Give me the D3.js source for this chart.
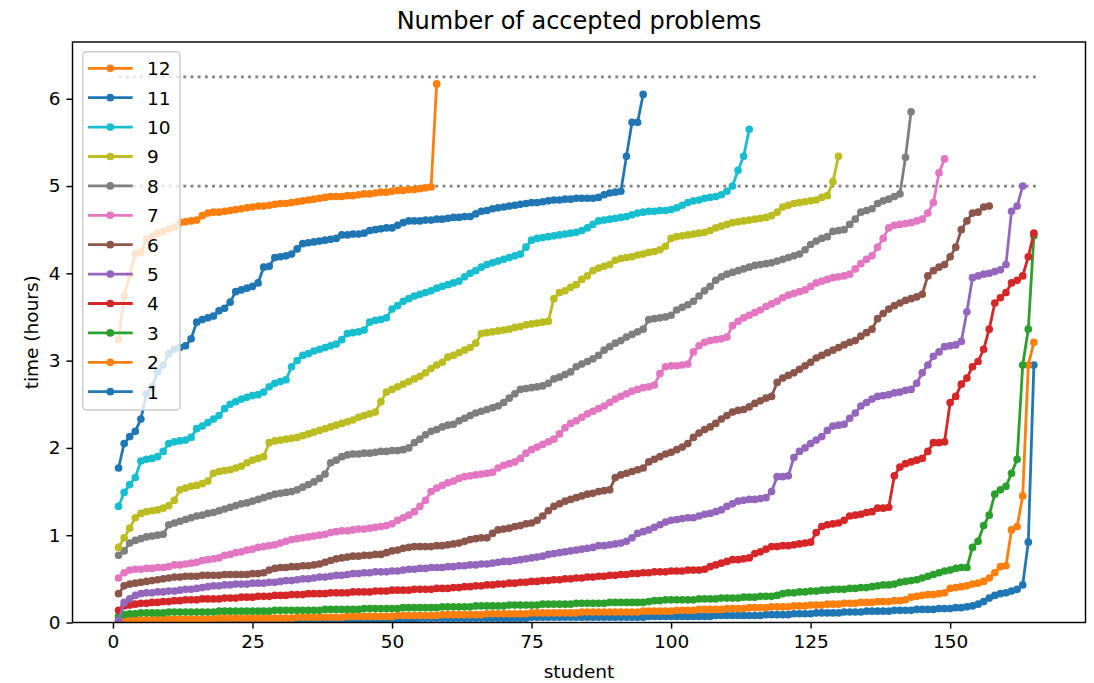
<!DOCTYPE html>
<html>
<head>
<meta charset="utf-8">
<script src="https://cdn.jsdelivr.net/npm/d3@7"></script>
<style>
  body { margin: 0; background: #fff; }
  text { font-family: "DejaVu Sans", sans-serif; fill: #000; }
</style>
</head>
<body>
<div id="chart"></div>
<script>
// sorted times (hours) at which each student reached k accepted problems
var solved1 = [0.01,0.01,0.01,0.01,0.01,0.01,0.01,0.01,0.02,0.02, 0.02,0.02,0.02,0.02,0.02,0.02,0.02,0.02,0.02,0.02,
  0.03,0.03,0.03,0.03,0.03,0.03,0.03,0.03,0.03,0.03, 0.03,0.03,0.03,0.03,0.03,0.03,0.04,0.04,0.04,0.04,
  0.04,0.04,0.04,0.04,0.04,0.04,0.04,0.04,0.04,0.04, 0.04,0.04,0.04,0.04,0.05,0.05,0.05,0.05,0.05,0.05,
  0.05,0.05,0.05,0.05,0.05,0.05,0.05,0.05,0.05,0.05, 0.05,0.05,0.05,0.05,0.06,0.06,0.06,0.06,0.06,0.06,
  0.06,0.06,0.06,0.06,0.06,0.06,0.06,0.06,0.06,0.06, 0.06,0.06,0.06,0.06,0.06,0.07,0.07,0.07,0.07,0.07,
  0.07,0.07,0.07,0.07,0.07,0.07,0.07,0.08,0.08,0.08, 0.08,0.08,0.08,0.08,0.08,0.08,0.09,0.09,0.09,0.09,
  0.09,0.10,0.10,0.10,0.10,0.11,0.11,0.11,0.11,0.11, 0.12,0.12,0.12,0.12,0.13,0.13,0.13,0.13,0.13,0.14,
  0.14,0.14,0.14,0.15,0.15,0.15,0.15,0.16,0.16,0.16, 0.17,0.17,0.18,0.19,0.21,0.24,0.28,0.31,0.33,0.34,
  0.36,0.38,0.43,0.92,2.95];
var solved2 = [0.02,0.03,0.03,0.03,0.03,0.03,0.03,0.04,0.04,0.04, 0.04,0.04,0.04,0.04,0.04,0.04,0.04,0.04,0.05,0.05,
  0.05,0.05,0.05,0.05,0.05,0.05,0.05,0.05,0.05,0.05, 0.05,0.05,0.06,0.06,0.06,0.06,0.06,0.06,0.06,0.06,
  0.06,0.07,0.07,0.07,0.07,0.07,0.07,0.07,0.07,0.07, 0.08,0.08,0.08,0.08,0.08,0.08,0.08,0.08,0.09,0.09,
  0.09,0.09,0.09,0.09,0.09,0.09,0.10,0.10,0.10,0.10, 0.10,0.10,0.10,0.10,0.11,0.11,0.11,0.11,0.11,0.11,
  0.11,0.11,0.11,0.12,0.12,0.12,0.12,0.12,0.12,0.12, 0.12,0.12,0.12,0.12,0.13,0.13,0.13,0.13,0.13,0.13,
  0.14,0.14,0.14,0.14,0.15,0.15,0.15,0.15,0.15,0.16, 0.16,0.16,0.16,0.17,0.17,0.17,0.17,0.18,0.18,0.18,
  0.18,0.19,0.19,0.19,0.20,0.20,0.20,0.21,0.21,0.21, 0.22,0.22,0.22,0.23,0.23,0.23,0.24,0.24,0.24,0.25,
  0.25,0.26,0.29,0.30,0.31,0.32,0.32,0.33,0.34,0.39, 0.40,0.41,0.42,0.44,0.45,0.47,0.51,0.57,0.64,0.65,
  1.06,1.10,1.45,2.95,3.21];
var solved3 = [0.07,0.09,0.10,0.10,0.11,0.11,0.11,0.11,0.11,0.12, 0.12,0.12,0.12,0.12,0.12,0.12,0.12,0.12,0.13,0.13,
  0.13,0.13,0.13,0.13,0.13,0.13,0.13,0.13,0.14,0.14, 0.14,0.14,0.14,0.14,0.14,0.14,0.14,0.15,0.15,0.15,
  0.15,0.15,0.15,0.15,0.16,0.16,0.16,0.16,0.16,0.16, 0.16,0.17,0.17,0.17,0.17,0.17,0.17,0.17,0.18,0.18,
  0.18,0.18,0.18,0.18,0.19,0.19,0.19,0.19,0.19,0.19, 0.20,0.20,0.20,0.20,0.20,0.20,0.21,0.21,0.21,0.21,
  0.21,0.21,0.22,0.22,0.22,0.22,0.22,0.22,0.23,0.23, 0.23,0.23,0.23,0.23,0.23,0.24,0.25,0.25,0.26,0.26,
  0.26,0.26,0.26,0.26,0.27,0.27,0.27,0.27,0.28,0.28, 0.28,0.28,0.29,0.29,0.29,0.30,0.30,0.30,0.31,0.33,
  0.34,0.34,0.35,0.35,0.36,0.36,0.37,0.37,0.38,0.38, 0.38,0.39,0.39,0.40,0.40,0.41,0.42,0.43,0.43,0.44,
  0.46,0.47,0.48,0.49,0.51,0.53,0.55,0.57,0.59,0.60, 0.62,0.63,0.63,0.86,0.93,1.11,1.23,1.47,1.52,1.56,
  1.71,1.87,2.95,3.36,4.43];
var solved4 = [0.14,0.19,0.20,0.21,0.22,0.22,0.23,0.23,0.24,0.24, 0.25,0.25,0.26,0.26,0.26,0.27,0.27,0.27,0.27,0.28,
  0.28,0.28,0.29,0.29,0.29,0.30,0.30,0.30,0.31,0.31, 0.31,0.32,0.32,0.32,0.33,0.33,0.33,0.33,0.34,0.34,
  0.34,0.34,0.35,0.35,0.35,0.35,0.36,0.36,0.36,0.37, 0.37,0.37,0.37,0.38,0.38,0.38,0.38,0.39,0.39,0.39,
  0.40,0.40,0.41,0.41,0.42,0.42,0.43,0.43,0.44,0.44, 0.45,0.45,0.46,0.46,0.47,0.47,0.48,0.48,0.49,0.49,
  0.50,0.50,0.51,0.51,0.52,0.52,0.53,0.53,0.54,0.54, 0.55,0.55,0.56,0.56,0.57,0.57,0.58,0.58,0.58,0.59,
  0.59,0.59,0.60,0.60,0.60,0.61,0.64,0.66,0.68,0.70, 0.72,0.72,0.73,0.74,0.79,0.81,0.84,0.87,0.87,0.88,
  0.88,0.89,0.90,0.91,0.92,1.03,1.10,1.12,1.13,1.14, 1.17,1.22,1.23,1.24,1.26,1.27,1.31,1.31,1.32,1.68,
  1.78,1.82,1.84,1.86,1.88,1.96,2.06,2.06,2.07,2.52, 2.59,2.73,2.80,2.93,2.99,3.13,3.36,3.66,3.72,3.78,
  3.89,3.92,3.97,4.19,4.46];
var solved5 = [0.02,0.23,0.27,0.31,0.33,0.34,0.34,0.35,0.35,0.36, 0.36,0.37,0.38,0.38,0.39,0.40,0.41,0.42,0.42,0.43,
  0.43,0.44,0.44,0.44,0.45,0.45,0.45,0.46,0.46,0.47, 0.48,0.48,0.49,0.50,0.50,0.51,0.52,0.52,0.53,0.54,
  0.54,0.55,0.56,0.56,0.57,0.57,0.58,0.58,0.58,0.59, 0.59,0.60,0.61,0.61,0.62,0.62,0.63,0.63,0.63,0.64,
  0.64,0.65,0.65,0.66,0.66,0.67,0.67,0.68,0.69,0.70, 0.70,0.71,0.72,0.73,0.74,0.75,0.76,0.78,0.79,0.80,
  0.81,0.82,0.83,0.84,0.85,0.86,0.88,0.88,0.89,0.90, 0.91,0.93,0.97,1.02,1.04,1.06,1.09,1.12,1.15,1.17,
  1.18,1.19,1.20,1.20,1.22,1.24,1.25,1.27,1.29,1.33, 1.36,1.39,1.40,1.41,1.41,1.42,1.43,1.50,1.67,1.67,
  1.68,1.89,1.96,2.00,2.05,2.09,2.13,2.20,2.25,2.26, 2.27,2.34,2.40,2.48,2.52,2.56,2.59,2.60,2.61,2.63,
  2.64,2.66,2.67,2.74,2.86,2.95,3.05,3.10,3.16,3.17, 3.18,3.22,3.56,3.95,3.97,3.99,4.00,4.02,4.04,4.10,
  4.71,4.77,5.00];
var solved6 = [0.33,0.42,0.44,0.45,0.46,0.47,0.48,0.49,0.50,0.51, 0.52,0.52,0.53,0.53,0.53,0.54,0.54,0.54,0.54,0.55,
  0.55,0.55,0.55,0.55,0.56,0.56,0.57,0.60,0.62,0.63, 0.63,0.64,0.64,0.65,0.65,0.66,0.67,0.69,0.71,0.73,
  0.74,0.75,0.76,0.76,0.77,0.77,0.78,0.78,0.80,0.82, 0.83,0.85,0.86,0.87,0.87,0.87,0.87,0.88,0.88,0.89,
  0.90,0.91,0.93,0.95,0.96,0.97,0.97,1.02,1.06,1.07, 1.08,1.10,1.11,1.13,1.14,1.17,1.22,1.28,1.33,1.36,
  1.39,1.41,1.43,1.45,1.47,1.48,1.50,1.51,1.52,1.66, 1.69,1.71,1.73,1.75,1.77,1.84,1.87,1.90,1.93,1.95,
  1.98,2.01,2.05,2.12,2.17,2.21,2.24,2.28,2.33,2.37, 2.41,2.43,2.44,2.47,2.51,2.54,2.57,2.59,2.75,2.80,
  2.83,2.86,2.90,2.94,2.98,3.03,3.06,3.09,3.12,3.15, 3.18,3.21,3.23,3.28,3.32,3.36,3.48,3.54,3.59,3.63,
  3.66,3.69,3.71,3.73,3.76,3.97,4.03,4.07,4.10,4.19, 4.30,4.50,4.60,4.69,4.70,4.76,4.77];
var solved7 = [0.51,0.57,0.60,0.61,0.61,0.62,0.62,0.63,0.63,0.64, 0.66,0.66,0.67,0.68,0.69,0.71,0.72,0.73,0.74,0.77,
  0.78,0.80,0.81,0.83,0.84,0.86,0.87,0.88,0.89,0.91, 0.93,0.95,0.96,0.97,0.98,0.99,1.00,1.01,1.03,1.04,
  1.05,1.05,1.06,1.07,1.07,1.08,1.09,1.10,1.11,1.13, 1.17,1.20,1.23,1.27,1.33,1.40,1.50,1.54,1.57,1.60,
  1.62,1.65,1.67,1.68,1.69,1.70,1.71,1.72,1.77,1.80, 1.82,1.84,1.88,1.94,1.98,2.01,2.04,2.07,2.10,2.16,
  2.23,2.28,2.31,2.35,2.39,2.42,2.45,2.48,2.52,2.56, 2.59,2.62,2.65,2.67,2.69,2.70,2.72,2.85,2.93,2.94,
  2.94,2.95,2.96,3.10,3.17,3.21,3.23,3.24,3.25,3.27, 3.40,3.45,3.49,3.52,3.55,3.58,3.62,3.65,3.68,3.72,
  3.75,3.77,3.79,3.81,3.85,3.89,3.91,3.93,3.95,3.96, 3.97,3.99,4.05,4.11,4.16,4.20,4.30,4.40,4.52,4.55,
  4.56,4.57,4.58,4.60,4.62,4.69,4.81,5.15,5.31];
var solved8 = [0.77,0.82,0.91,0.94,0.96,0.98,0.99,1.00,1.01,1.12, 1.14,1.16,1.18,1.20,1.22,1.23,1.25,1.26,1.28,1.30,
  1.32,1.34,1.36,1.37,1.39,1.41,1.43,1.45,1.47,1.48, 1.49,1.50,1.52,1.55,1.58,1.61,1.65,1.70,1.83,1.86,
  1.90,1.92,1.93,1.93,1.94,1.94,1.95,1.96,1.96,1.97, 1.97,1.98,2.00,2.06,2.10,2.15,2.19,2.21,2.24,2.26,
  2.27,2.31,2.34,2.37,2.40,2.42,2.44,2.46,2.48,2.52, 2.57,2.62,2.67,2.68,2.69,2.70,2.71,2.74,2.79,2.81,
  2.84,2.87,2.93,2.96,2.99,3.02,3.06,3.12,3.16,3.20, 3.23,3.27,3.30,3.33,3.36,3.47,3.48,3.49,3.50,3.52,
  3.58,3.61,3.64,3.68,3.74,3.80,3.85,3.92,3.96,3.99, 4.01,4.03,4.05,4.07,4.09,4.10,4.11,4.12,4.14,4.16,
  4.18,4.20,4.22,4.27,4.33,4.37,4.40,4.42,4.48,4.49, 4.50,4.56,4.62,4.70,4.72,4.74,4.80,4.83,4.85,4.88,
  4.91,5.33,5.85];
var solved9 = [0.86,0.97,1.08,1.20,1.25,1.27,1.28,1.29,1.31,1.34, 1.40,1.52,1.54,1.56,1.57,1.59,1.62,1.71,1.73,1.74,
  1.75,1.77,1.79,1.83,1.86,1.88,1.90,2.06,2.08,2.09, 2.10,2.11,2.12,2.14,2.16,2.18,2.20,2.22,2.24,2.26,
  2.28,2.30,2.32,2.35,2.37,2.39,2.41,2.53,2.64,2.67, 2.70,2.73,2.76,2.79,2.82,2.86,2.91,2.95,2.98,3.04,
  3.06,3.09,3.12,3.15,3.20,3.31,3.32,3.33,3.34,3.35, 3.36,3.38,3.39,3.41,3.42,3.43,3.44,3.45,3.71,3.78,
  3.80,3.84,3.87,3.93,3.97,4.03,4.06,4.08,4.10,4.15, 4.17,4.18,4.19,4.21,4.22,4.24,4.25,4.27,4.31,4.40,
  4.42,4.43,4.44,4.45,4.46,4.47,4.49,4.52,4.54,4.56, 4.58,4.59,4.60,4.61,4.62,4.63,4.64,4.66,4.70,4.76,
  4.78,4.80,4.81,4.82,4.83,4.84,4.87,4.89,5.05,5.34];
var solved10 = [1.33,1.49,1.58,1.66,1.85,1.87,1.88,1.90,1.96,2.05, 2.07,2.08,2.09,2.12,2.22,2.25,2.29,2.33,2.37,2.45,
  2.50,2.53,2.56,2.58,2.60,2.61,2.64,2.70,2.74,2.76, 2.78,2.93,3.00,3.06,3.08,3.11,3.13,3.15,3.17,3.19,
  3.24,3.31,3.32,3.33,3.35,3.44,3.46,3.47,3.49,3.59, 3.63,3.68,3.71,3.74,3.76,3.78,3.80,3.83,3.85,3.87,
  3.89,3.91,3.96,4.00,4.03,4.07,4.10,4.12,4.14,4.16, 4.18,4.20,4.22,4.30,4.38,4.40,4.41,4.42,4.43,4.44,
  4.45,4.46,4.47,4.49,4.52,4.56,4.60,4.61,4.62,4.63, 4.64,4.65,4.67,4.69,4.70,4.71,4.71,4.72,4.72,4.73,
  4.75,4.78,4.81,4.83,4.84,4.86,4.87,4.88,4.90,4.94, 5.00,5.18,5.34,5.65];
var solved11 = [1.77,2.05,2.13,2.19,2.33,2.62,2.70,2.87,2.95,3.08, 3.13,3.15,3.17,3.25,3.44,3.47,3.49,3.51,3.57,3.60,
  3.67,3.79,3.81,3.83,3.85,3.89,4.07,4.08,4.18,4.19, 4.20,4.22,4.28,4.34,4.35,4.36,4.37,4.38,4.39,4.40,
  4.44,4.44,4.45,4.45,4.46,4.49,4.50,4.51,4.52,4.52, 4.55,4.58,4.60,4.60,4.60,4.61,4.61,4.62,4.62,4.63,
  4.64,4.64,4.65,4.65,4.68,4.71,4.72,4.74,4.75,4.76, 4.77,4.78,4.79,4.80,4.81,4.81,4.82,4.83,4.84,4.84,
  4.85,4.85,4.86,4.86,4.86,4.86,4.87,4.90,4.92,4.93, 4.94,5.34,5.73,5.73,6.05];
var solved12 = [3.24,3.74,3.98,4.23,4.24,4.39,4.42,4.46,4.48,4.51, 4.53,4.58,4.59,4.60,4.61,4.66,4.69,4.70,4.70,4.71,
  4.72,4.73,4.74,4.75,4.76,4.77,4.77,4.78,4.79,4.80, 4.80,4.81,4.82,4.83,4.84,4.85,4.86,4.87,4.88,4.88,
  4.88,4.89,4.89,4.90,4.91,4.91,4.92,4.93,4.93,4.94, 4.95,4.95,4.96,4.96,4.97,4.98,4.99,6.17];

var labels = ["1","2","3","4","5","6","7","8","9","10","11","12"];
var colors = ["#1f77b4","#ff7f0e","#2ca02c","#d62728","#9467bd","#8c564b",
              "#e377c2","#7f7f7f","#bcbd22","#17becf","#1f77b4","#ff7f0e"];
var limits = [5, 6.25];   // dotted reference lines (hours)
var xTicks = [0, 25, 50, 75, 100, 125, 150];
var yTicks = [0, 1, 2, 3, 4, 5, 6];

var series = [solved1, solved2, solved3, solved4, solved5, solved6,
              solved7, solved8, solved9, solved10, solved11, solved12];

//width and height
var w = 1094;
var h = 683;
var plotL = 72.5, plotR = 1085.5, plotT = 42, plotB = 622.5;

var xScale = d3.scaleLinear().domain([-7.25, 174.25]).range([plotL, plotR]);
var yScale = d3.scaleLinear().domain([0, 6.65]).range([plotB, plotT]);

var svg = d3.select("#chart")
  .append("svg")
  .attr("width", w)
  .attr("height", h);

svg.append("defs").append("clipPath")
  .attr("id", "plotclip")
  .append("rect")
  .attr("x", plotL).attr("y", plotT)
  .attr("width", plotR - plotL).attr("height", plotB - plotT);

var plot = svg.append("g").attr("clip-path", "url(#plotclip)");

// dotted limit lines
plot.selectAll("line.limit")
  .data(limits)
  .enter()
  .append("line")
  .attr("class", "limit")
  .attr("x1", xScale(1))
  .attr("x2", xScale(166))
  .attr("y1", function (d) { return yScale(d); })
  .attr("y2", function (d) { return yScale(d); })
  .attr("stroke", "#808080")
  .attr("stroke-width", 2.8)
  .attr("stroke-dasharray", "2.8,4.4");

var line = d3.line()
  .x(function (d, i) { return xScale(i + 1); })
  .y(function (d) { return yScale(d); });

series.forEach(function (vals, k) {
  var g = plot.append("g");
  g.append("path")
    .attr("d", line(vals))
    .attr("fill", "none")
    .attr("stroke", colors[k])
    .attr("stroke-width", 2.8)
    .attr("stroke-linejoin", "round")
    .attr("stroke-linecap", "square");
  g.selectAll("circle")
    .data(vals)
    .enter()
    .append("circle")
    .attr("cx", function (d, i) { return xScale(i + 1); })
    .attr("cy", function (d) { return yScale(d); })
    .attr("r", 2.9)
    .attr("fill", colors[k])
    .attr("stroke", colors[k])
    .attr("stroke-width", 1.9);
});

//x axis
var xAxis = d3.axisBottom(xScale).tickValues(xTicks).tickSize(6.1).tickPadding(6);
var gx = svg.append("g")
  .attr("transform", "translate(0," + plotB + ")")
  .call(xAxis);

//y axis
var yAxis = d3.axisLeft(yScale).tickValues(yTicks).tickFormat(d3.format("d"))
  .tickSize(6.1).tickPadding(6);
var gy = svg.append("g")
  .attr("transform", "translate(" + plotL + ",0)")
  .call(yAxis);

[gx, gy].forEach(function (g) {
  g.select(".domain").remove();
  g.selectAll(".tick line").attr("stroke", "#000").attr("stroke-width", 1.45);
  g.selectAll(".tick text")
    .attr("font-size", "18.5px")
    .attr("font-family", "DejaVu Sans")
    .attr("fill", "#000");
});

// frame
svg.append("rect")
  .attr("x", plotL).attr("y", plotT)
  .attr("width", plotR - plotL).attr("height", plotB - plotT)
  .attr("fill", "none")
  .attr("stroke", "#000")
  .attr("stroke-width", 1.45);

// legend
var legend = svg.append("g");
legend.append("rect")
  .attr("x", 82.7).attr("y", 51.7)
  .attr("width", 97.3).attr("height", 358.3)
  .attr("rx", 4)
  .attr("fill", "#fff")
  .attr("fill-opacity", 0.8)
  .attr("stroke", "#cccccc")
  .attr("stroke-width", 1.45);

var order = d3.range(11, -1, -1);
var item = legend.selectAll("g.item")
  .data(order)
  .enter()
  .append("g")
  .attr("transform", function (d, j) { return "translate(0," + (68.3 + j * 29.4) + ")"; });

item.append("line")
  .attr("x1", 88).attr("x2", 132.7)
  .attr("stroke", function (d) { return colors[d]; })
  .attr("stroke-width", 2.8);
item.append("circle")
  .attr("cx", 110.3).attr("r", 2.9)
  .attr("fill", function (d) { return colors[d]; })
  .attr("stroke", function (d) { return colors[d]; })
  .attr("stroke-width", 1.9);
item.append("text")
  .attr("x", 147)
  .attr("y", 6.8)
  .attr("font-size", "18.5px")
  .text(function (d) { return labels[d]; });

// titles
svg.append("text")
  .attr("x", (plotL + plotR) / 2)
  .attr("y", 29)
  .attr("text-anchor", "middle")
  .attr("font-size", "24px")
  .text("Number of accepted problems");

svg.append("text")
  .attr("x", (plotL + plotR) / 2)
  .attr("y", 678)
  .attr("text-anchor", "middle")
  .attr("font-size", "18.5px")
  .text("student");

svg.append("text")
  .attr("transform", "translate(38," + ((plotT + plotB) / 2) + ") rotate(-90)")
  .attr("text-anchor", "middle")
  .attr("font-size", "18.5px")
  .text("time (hours)");
</script>
</body>
</html>
